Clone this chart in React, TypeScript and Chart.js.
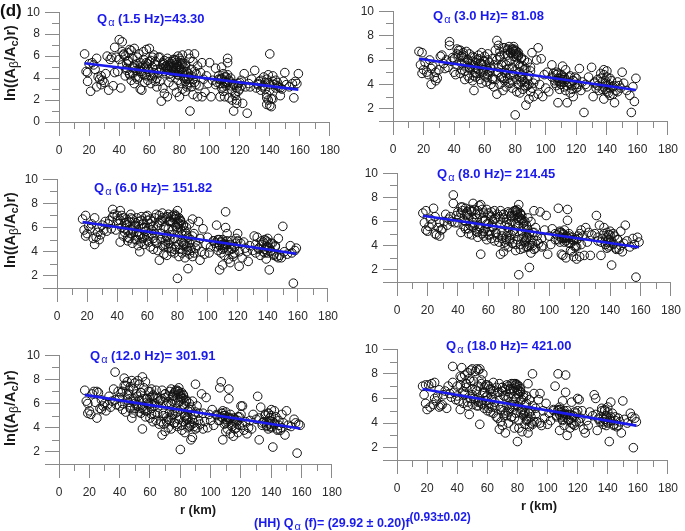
import { useEffect, useRef } from "react";
import { Chart, registerables } from "chart.js";

Chart.register(...registerables);

// ---------- DATA ----------
// Hypocentral distance r (km) of each record (shared by all frequency bands)
const distanceKm = [
  17, 18, 19, 19, 20, 21, 22, 23, 24, 25, 25, 26, 27, 28, 28, 29, 30, 31, 32, 33, 34, 35,
  36, 37, 37, 38, 39, 40, 40, 41, 42, 42, 43, 44, 44, 45, 45, 46, 47, 47, 48, 48, 49, 49, 50, 50, 50, 51,
  52, 52, 53, 53, 54, 54, 55, 55, 56, 56, 57, 57, 58, 58, 59, 59, 60, 60, 61, 61, 62, 62, 63, 63, 64, 64, 65, 65, 66, 66,
  67, 67, 68, 68, 69, 69, 70, 70, 71, 71, 72, 72, 73, 73, 74, 74, 75, 75, 76, 76, 77, 77, 78, 78, 78, 79, 79, 79, 80, 80,
  80, 81, 81, 81, 82, 82, 82, 83, 83, 84, 84, 85, 85, 86, 86, 87, 87, 88, 88, 89, 89, 90, 90, 91, 92, 92,
  93, 94, 95, 95, 96, 97, 98, 99, 100, 101, 102, 104,
  105, 106, 107, 107, 108, 108, 109, 109, 110, 110, 111, 111, 112, 112, 113, 113, 114, 115, 116, 116, 117, 118, 118, 119, 120, 121, 122, 123, 124, 125,
  126, 127, 128, 130, 131, 132, 133, 134, 135, 136, 137, 138, 138, 139, 139, 140, 140, 141, 142, 142, 144, 145,
  147, 147, 148, 149, 150, 151, 153, 155, 156, 157, 158, 159,
  42, 43, 45, 46, 47, 49, 51, 52, 53, 54, 55, 56, 57, 58, 59, 60, 61, 62, 63, 64, 65, 46, 50, 54, 58,
  68, 69, 70, 71, 72, 73, 74, 75, 76, 77, 78, 79, 80, 81, 82, 83, 84, 85, 86, 87, 88, 89, 90, 91,
  70, 72, 74, 76, 78, 80, 82, 84, 86, 77, 79, 81, 83, 75, 73, 85,
  104, 106, 107, 108, 109, 110, 111, 112, 113, 114, 115, 116, 117, 118, 119, 120, 121, 108, 110, 112,
  132, 134, 136, 137, 138, 139, 140, 141, 142, 143, 144, 145, 146, 140, 138,
];

// ln((Abeta/Ac) r) values per frequency band
const lnAmp1_5Hz = [
  6.2, 4.6, 3.7, 4.5, 5.3, 2.8, 5.4, 5.2, 4.8, 5.8, 3.2, 4.1, 3.9, 4.2, 3.4, 3.8, 3.6, 4.4, 6.0, 2.9, 5.7, 5.9,
  3.3, 6.8, 4.5, 5.9, 4.6, 7.5, 5.7, 3.1, 7.3, 6.4, 6.2, 6.0, 4.2, 5.3, 4.7, 5.5, 6.6, 4.3, 3.8, 6.5, 5.0, 4.4, 3.5, 6.7, 5.2, 4.1,
  5.9, 3.9, 4.8, 6.2, 3.0, 5.4, 2.9, 4.4, 6.4, 5.1, 3.6, 4.9, 6.6, 4.2, 5.3, 3.8, 6.7, 4.6, 3.5, 5.6, 4.0, 5.0, 6.1, 4.3, 3.7, 5.5, 4.8, 3.2, 5.9, 4.5,
  5.9, 3.7, 1.9, 4.8, 5.2, 3.1, 2.6, 5.6, 4.4, 5.0, 2.3, 5.8, 4.7, 3.6, 5.3, 4.1, 5.5, 4.9, 3.3, 5.1, 4.5, 5.7, 2.7, 4.9, 5.4, 6.0, 4.3, 3.8, 5.8, 2.3,
  4.7, 5.2, 3.5, 5.6, 4.5, 6.1, 3.0, 5.0, 4.2, 5.3, 2.8, 4.6, 3.4, 6.2, 4.0, 1.0, 5.8, 3.2, 4.8, 2.5, 5.5, 6.2, 3.6, 4.4, 2.3, 5.1,
  3.3, 4.5, 2.3, 5.4, 3.9, 2.7, 4.2, 3.5, 5.4, 2.3, 3.8, 4.9,
  3.6, 4.2, 2.3, 3.9, 5.0, 3.1, 4.4, 2.8, 3.5, 2.3, 4.1, 3.3, 5.8, 5.4, 3.7, 2.2, 4.0, 2.0, 1.0, 3.4, 2.6, 2.0, 1.7, 3.5, 3.0, 3.8, 1.7, 4.4, 3.2, 0.8,
  3.5, 3.2, 3.9, 4.7, 3.1, 3.4, 3.7, 2.9, 3.2, 4.1, 3.6, 2.2, 1.6, 4.3, 2.0, 6.2, 1.5, 1.4, 4.2, 2.1, 3.8, 3.3,
  2.4, 3.1, 3.0, 3.7, 4.5, 3.4, 3.2, 3.5, 2.2, 3.7, 3.5, 4.4,
  5.2, 6.1, 4.9, 5.6, 4.4, 5.8, 4.7, 5.3, 4.1, 5.0, 4.6, 5.7, 4.3, 5.1, 4.8, 5.5, 4.2, 5.9, 4.5, 5.2, 4.0, 6.3, 4.9, 4.6, 5.4,
  4.9, 5.4, 4.6, 5.1, 4.8, 5.5, 4.4, 5.0, 5.7, 4.7, 5.2, 4.5, 5.0, 4.8, 5.3, 4.6, 5.1, 3.9, 4.4, 3.6, 4.2, 3.9, 4.6, 3.4,
  5.3, 4.9, 5.0, 4.7, 5.2, 4.9, 4.5, 3.7, 4.1, 5.6, 4.3, 5.4, 4.0, 4.6, 5.1, 3.2,
  3.4, 3.9, 3.5, 4.0, 3.2, 3.7, 3.6, 4.3, 3.8, 3.3, 2.9, 3.5, 2.4, 3.1, 2.8, 3.6, 3.3, 3.9, 4.1, 3.6,
  3.5, 3.8, 3.3, 3.0, 3.9, 3.6, 2.9, 2.1, 3.7, 3.4, 3.1, 3.6, 3.2, 3.4, 2.5,
];
const lnAmp3_0Hz = [
  6.7, 5.6, 6.6, 4.9, 5.2, 5.8, 5.0, 4.8, 6.0, 4.0, 5.3, 5.5, 4.6, 4.3, 5.0, 4.5, 5.2, 6.3, 6.4, 5.7, 5.3, 6.0,
  5.4, 7.5, 7.2, 5.9, 6.2, 5.0, 6.1, 4.8, 6.9, 5.6, 6.4, 6.8, 4.9, 6.3, 5.2, 6.6, 5.8, 4.4, 5.5, 6.7, 4.7, 6.0, 5.3, 6.5, 4.5, 5.7,
  5.9, 4.3, 3.5, 6.2, 5.4, 4.6, 6.0, 4.9, 5.2, 6.4, 4.4, 5.7, 6.6, 4.1, 5.0, 5.9, 4.7, 6.3, 4.2, 5.5, 6.5, 4.8, 5.1, 5.8, 4.0, 5.3, 4.5, 6.1, 3.8, 5.6,
  6.8, 4.4, 3.2, 7.6, 5.0, 7.2, 4.0, 6.2, 4.6, 5.6, 3.5, 7.0, 4.3, 6.5, 5.2, 3.8, 6.9, 4.5, 7.1, 5.9, 4.1, 6.6, 5.4, 6.9, 3.7, 6.7, 4.8, 6.3, 1.5, 6.8,
  5.1, 4.4, 6.5, 3.4, 5.7, 6.6, 4.0, 5.0, 3.3, 6.2, 4.6, 5.5, 3.6, 6.0, 4.2, 2.3, 5.3, 3.9, 5.8, 2.8, 4.7, 5.4, 3.4, 6.6, 4.1, 3.0,
  4.4, 6.0, 7.0, 3.2, 4.0, 6.1, 3.0, 4.8, 3.7, 5.0, 3.4, 5.6,
  4.9, 4.3, 3.9, 5.0, 4.5, 2.5, 4.2, 3.6, 4.8, 4.0, 4.4, 5.5, 3.8, 4.6, 5.2, 3.5, 2.5, 4.1, 3.3, 4.7, 3.9, 3.0, 4.3, 4.6, 3.7, 4.0, 5.3, 3.5, 4.2, 1.7,
  4.0, 3.8, 4.6, 5.4, 3.0, 4.1, 3.7, 4.4, 3.5, 4.9, 4.2, 2.8, 5.2, 3.6, 4.3, 5.1, 3.9, 3.3, 4.5, 3.1, 3.8, 2.5,
  3.4, 4.2, 3.9, 3.7, 5.0, 4.1, 3.5, 3.1, 1.7, 3.8, 2.6, 4.5,
  6.5, 6.8, 5.7, 6.2, 5.1, 6.0, 5.5, 6.3, 4.7, 5.8, 5.3, 6.1, 4.9, 5.6, 5.2, 5.9, 4.6, 6.0, 5.0, 5.4, 4.4, 6.4, 5.4, 5.0, 5.7,
  6.0, 5.4, 6.7, 4.6, 5.8, 7.0, 4.9, 6.8, 5.3, 6.6, 4.3, 6.9, 6.5, 6.7, 6.3, 5.5, 6.1, 4.7, 5.2, 3.8, 4.4, 4.0, 5.1, 3.7,
  6.3, 4.5, 5.6, 4.1, 6.8, 5.9, 6.4, 4.2, 3.9, 4.8, 7.1, 6.2, 4.6, 6.4, 5.0, 4.4,
  4.6, 4.1, 4.8, 4.3, 4.5, 4.0, 4.7, 4.2, 4.4, 3.9, 4.6, 4.1, 3.6, 4.3, 4.0, 4.5, 3.8, 4.9, 4.2, 4.4,
  4.2, 3.9, 4.5, 3.6, 4.8, 4.1, 3.4, 4.0, 3.7, 4.3, 3.2, 3.9, 3.5, 4.6, 3.8,
];
const lnAmp6_0Hz = [
  6.7, 5.8, 7.0, 5.3, 5.5, 6.1, 5.9, 6.3, 5.1, 4.6, 6.8, 5.2, 5.6, 5.0, 6.0, 5.4, 6.2, 5.8, 6.5, 5.7, 6.3, 6.6,
  5.9, 7.5, 6.9, 7.1, 5.8, 6.6, 7.0, 6.3, 7.4, 4.8, 6.0, 6.8, 5.3, 6.4, 5.6, 6.2, 5.7, 4.9, 6.5, 5.1, 7.1, 5.5, 5.9, 6.7, 4.7, 6.1,
  6.4, 5.0, 5.6, 6.8, 4.5, 6.1, 4.0, 5.4, 6.6, 4.8, 5.9, 6.3, 5.2, 4.6, 6.9, 5.7, 7.0, 4.9, 6.0, 5.3, 6.7, 4.4, 5.8, 6.5, 5.1, 4.2, 6.8, 5.5, 4.7, 7.1,
  6.2, 4.1, 3.3, 7.0, 5.5, 6.6, 4.5, 7.2, 3.8, 6.0, 4.9, 6.8, 5.3, 3.7, 7.1, 4.3, 6.5, 5.0, 6.9, 4.0, 5.8, 6.4, 3.9, 6.7, 5.1, 7.0, 4.4, 6.1, 1.8, 7.4,
  5.6, 4.6, 6.3, 3.6, 5.9, 6.6, 4.2, 5.4, 3.9, 6.2, 4.7, 5.7, 3.5, 6.0, 4.4, 2.6, 5.2, 3.8, 6.3, 4.1, 5.0, 6.7, 3.6, 5.5, 4.3, 4.8,
  4.5, 6.5, 3.3, 5.1, 4.0, 5.9, 3.8, 4.6, 5.2, 3.9, 4.4, 4.9,
  4.7, 6.2, 4.1, 5.0, 2.5, 4.5, 4.8, 3.9, 2.9, 5.0, 4.3, 3.7, 7.3, 6.0, 4.6, 5.5, 3.4, 3.1, 4.9, 4.2, 3.6, 3.9, 4.4, 5.1, 5.5, 2.8, 4.7, 3.5, 4.8, 4.3,
  4.0, 3.2, 4.5, 4.1, 5.3, 3.9, 5.2, 4.3, 3.7, 4.6, 4.8, 3.9, 4.2, 3.4, 4.9, 5.1, 4.4, 2.5, 4.7, 4.0, 3.8, 4.5,
  3.5, 5.1, 3.7, 3.5, 6.1, 4.0, 3.8, 4.5, 3.9, 1.4, 4.1, 4.3,
  6.6, 7.0, 5.9, 6.4, 5.2, 6.8, 5.6, 6.2, 5.0, 6.5, 5.4, 6.9, 5.1, 6.0, 5.7, 6.6, 4.8, 6.3, 5.5, 6.1, 4.9, 6.7, 5.8, 5.3, 6.0,
  6.4, 5.0, 6.8, 4.4, 6.1, 6.9, 4.7, 6.6, 5.4, 7.0, 4.2, 6.7, 6.3, 6.8, 6.5, 5.7, 6.2, 4.9, 5.5, 4.1, 4.7, 4.3, 5.3, 3.9,
  6.5, 4.6, 5.9, 4.3, 7.1, 6.0, 6.6, 4.5, 4.0, 5.1, 6.9, 6.4, 4.8, 6.5, 5.2, 4.6,
  4.9, 4.4, 5.0, 4.6, 4.8, 4.2, 4.7, 4.5, 4.9, 4.1, 4.6, 4.3, 3.8, 4.4, 4.7, 4.9, 4.0, 5.0, 4.5, 4.6,
  4.6, 4.2, 4.9, 4.0, 5.0, 4.4, 3.9, 4.3, 4.1, 4.7, 3.7, 4.4, 3.6, 4.8, 4.2,
];
const lnAmp8_0Hz = [
  6.7, 5.9, 5.3, 6.9, 5.2, 5.6, 6.2, 5.8, 7.1, 5.0, 6.4, 4.9, 5.5, 4.8, 5.9, 5.3, 5.4, 6.0, 6.6, 5.7, 6.2, 6.4,
  6.0, 8.2, 7.5, 5.9, 6.5, 6.8, 5.9, 6.3, 5.1, 7.2, 6.9, 6.1, 5.6, 7.1, 5.4, 6.6, 5.0, 6.3, 7.0, 5.7, 6.8, 4.9, 7.5, 5.5, 6.2, 7.0,
  6.6, 5.2, 4.7, 6.9, 5.6, 7.3, 3.3, 7.4, 5.0, 6.2, 4.8, 6.7, 5.4, 6.1, 4.5, 7.0, 5.8, 4.9, 6.5, 5.2, 6.8, 4.6, 6.0, 5.5, 6.9, 4.4, 6.3, 5.1, 4.7, 6.6,
  6.4, 4.3, 3.3, 6.9, 5.1, 4.6, 3.5, 6.6, 4.0, 5.7, 4.8, 6.2, 3.9, 5.5, 6.7, 4.4, 6.0, 4.9, 6.8, 4.2, 5.3, 6.5, 3.6, 6.9, 5.8, 7.0, 4.5, 6.3, 1.6, 7.4,
  5.6, 4.1, 6.6, 3.7, 5.2, 6.1, 4.6, 5.9, 3.8, 5.4, 4.3, 5.7, 3.9, 6.3, 4.7, 2.2, 5.0, 3.4, 6.0, 4.0, 5.1, 6.9, 3.7, 5.5, 4.4, 4.8,
  4.2, 6.8, 3.9, 4.6, 4.0, 5.3, 6.5, 3.3, 4.8, 4.1, 5.4, 4.5,
  4.9, 7.1, 4.3, 5.2, 4.6, 3.3, 5.0, 3.2, 4.7, 5.3, 3.0, 4.4, 6.1, 7.0, 4.8, 4.2, 3.6, 3.5, 4.5, 3.1, 4.0, 2.9, 3.9, 4.6, 3.1, 5.3, 4.8, 3.2, 5.5, 4.3,
  5.1, 3.2, 4.9, 5.0, 6.5, 4.4, 5.7, 3.2, 4.6, 5.5, 4.1, 3.8, 4.7, 3.9, 4.9, 5.2, 4.3, 2.4, 5.0, 4.1, 3.7, 4.5,
  5.2, 4.0, 3.5, 4.2, 5.7, 4.4, 3.9, 4.6, 4.1, 1.4, 4.7, 4.3,
  6.7, 7.2, 6.0, 6.5, 5.4, 6.9, 5.7, 6.3, 5.1, 6.6, 5.5, 7.0, 5.2, 6.1, 5.8, 6.7, 4.9, 6.4, 5.6, 6.2, 5.0, 6.8, 5.9, 5.4, 6.1,
  6.2, 4.8, 6.6, 4.3, 5.9, 6.8, 4.6, 6.5, 5.2, 6.9, 4.1, 6.6, 6.4, 6.7, 6.2, 5.6, 6.0, 4.7, 5.3, 4.0, 4.5, 4.2, 5.1, 3.8,
  6.3, 4.5, 5.8, 4.2, 6.9, 6.1, 6.5, 4.4, 3.9, 5.0, 6.8, 6.3, 4.7, 6.4, 5.1, 4.5,
  5.0, 4.5, 5.1, 4.7, 4.9, 4.3, 4.8, 4.6, 5.0, 4.2, 4.7, 4.4, 3.9, 4.5, 4.8, 5.0, 4.1, 5.1, 4.6, 4.7,
  4.7, 4.3, 5.0, 4.1, 5.1, 4.5, 4.0, 4.4, 4.2, 4.8, 3.8, 4.5, 3.7, 4.9, 4.3,
];
const lnAmp12_0Hz = [
  7.1, 6.2, 6.0, 5.2, 5.4, 5.1, 6.8, 7.0, 6.1, 4.8, 7.0, 6.9, 5.6, 5.5, 6.3, 5.8, 6.0, 5.4, 5.9, 6.6, 5.7, 6.2,
  7.2, 8.6, 6.3, 5.9, 7.0, 6.5, 5.8, 6.9, 6.0, 5.5, 8.1, 7.5, 5.3, 7.8, 6.7, 6.1, 7.4, 5.7, 4.8, 7.9, 6.4, 5.2, 7.7, 6.0, 5.6, 6.8,
  7.9, 5.8, 6.3, 7.6, 5.2, 6.9, 3.9, 8.2, 5.5, 6.4, 7.8, 4.9, 6.1, 5.4, 7.0, 5.9, 6.5, 4.8, 7.2, 5.6, 6.6, 4.5, 6.0, 5.1, 7.1, 4.6, 6.4, 5.7, 4.3, 6.2,
  6.3, 4.5, 3.4, 7.1, 5.2, 4.3, 3.7, 6.8, 4.9, 6.0, 4.0, 6.6, 4.6, 5.8, 7.2, 3.9, 6.2, 5.1, 6.9, 4.4, 5.6, 7.0, 4.1, 6.5, 5.3, 7.3, 4.7, 6.1, 2.2, 6.8,
  5.5, 3.8, 6.4, 4.2, 5.9, 6.7, 4.5, 5.0, 3.6, 6.3, 4.8, 5.4, 4.0, 6.0, 4.4, 3.0, 5.7, 3.2, 6.2, 4.1, 5.1, 7.6, 3.9, 5.8, 4.6, 5.2,
  4.3, 6.8, 3.9, 5.2, 4.5, 6.5, 4.0, 5.1, 4.6, 5.5, 4.2, 5.0,
  4.6, 7.3, 7.8, 4.9, 3.0, 5.4, 4.3, 5.0, 3.7, 5.3, 4.5, 3.9, 7.2, 6.4, 4.8, 3.5, 4.1, 3.3, 4.7, 3.9, 4.4, 3.6, 4.9, 4.2, 5.8, 5.8, 3.8, 4.5, 3.5, 4.0,
  4.6, 3.9, 5.1, 4.7, 6.6, 3.0, 5.7, 4.2, 4.5, 5.0, 4.1, 3.9, 5.2, 4.3, 4.8, 5.5, 4.0, 2.4, 5.4, 4.4, 3.8, 4.2,
  5.1, 4.0, 4.4, 3.4, 5.4, 4.2, 4.1, 4.7, 4.4, 1.9, 4.3, 4.2,
  7.0, 7.5, 6.3, 6.8, 5.6, 7.2, 5.9, 6.6, 5.3, 6.9, 5.7, 7.3, 5.4, 6.4, 6.0, 7.0, 5.1, 6.7, 5.8, 6.5, 5.2, 7.1, 6.2, 5.6, 6.4,
  6.4, 5.0, 6.8, 4.5, 6.1, 7.0, 4.8, 6.7, 5.4, 7.1, 4.3, 6.8, 6.6, 6.9, 6.4, 5.8, 6.2, 4.9, 5.5, 4.2, 4.7, 4.4, 5.3, 4.0,
  6.5, 4.7, 6.0, 4.4, 7.1, 6.3, 6.7, 4.6, 4.1, 5.2, 7.0, 6.5, 4.9, 6.6, 5.3, 4.7,
  5.1, 4.6, 5.2, 4.8, 5.0, 4.4, 4.9, 4.7, 5.1, 4.3, 4.8, 4.5, 4.0, 4.6, 4.9, 5.1, 4.2, 5.2, 4.7, 4.8,
  4.8, 4.4, 5.1, 4.2, 5.2, 4.6, 4.1, 4.5, 4.3, 4.9, 3.9, 4.6, 3.8, 5.0, 4.4,
];
const lnAmp18_0Hz = [
  7.0, 6.3, 5.6, 7.1, 5.1, 7.1, 5.3, 7.2, 5.5, 7.3, 6.0, 5.8, 6.2, 5.3, 6.7, 5.4, 5.5, 6.3, 6.6, 5.2, 7.0, 6.4,
  6.1, 8.6, 7.3, 6.5, 5.9, 7.0, 6.2, 5.8, 7.8, 5.1, 8.5, 6.6, 5.6, 7.9, 6.3, 7.2, 8.1, 5.4, 4.7, 7.6, 8.3, 6.0, 8.4, 5.5, 6.8, 7.4,
  8.2, 5.9, 8.4, 6.6, 8.3, 5.4, 3.9, 8.4, 7.2, 5.6, 6.4, 8.0, 5.2, 6.9, 7.1, 5.8, 6.2, 5.0, 7.0, 5.5, 6.7, 4.9, 6.1, 5.3, 7.3, 4.8, 6.4, 5.7, 4.5, 6.9,
  6.5, 4.4, 3.5, 7.2, 5.3, 4.1, 3.8, 6.9, 5.0, 6.2, 3.2, 6.7, 4.6, 5.9, 7.0, 4.0, 6.4, 5.2, 7.2, 4.5, 5.7, 6.8, 3.6, 6.6, 5.5, 7.2, 4.8, 6.0, 2.5, 7.1,
  5.4, 4.2, 6.3, 3.6, 5.8, 6.6, 4.9, 5.1, 3.3, 6.1, 4.6, 5.5, 3.9, 6.2, 4.3, 3.2, 7.2, 3.7, 5.9, 4.0, 5.0, 8.0, 3.9, 6.4, 4.7, 5.2,
  4.1, 5.9, 4.0, 6.4, 3.8, 5.0, 4.4, 5.6, 3.9, 4.8, 4.2, 5.1,
  7.0, 4.6, 8.0, 5.0, 3.4, 5.3, 4.5, 4.9, 5.8, 4.2, 5.0, 3.8, 6.5, 7.9, 4.7, 3.0, 4.3, 3.6, 5.7, 4.0, 4.6, 3.8, 4.9, 4.1, 6.0, 5.9, 4.4, 5.0, 3.5, 3.2,
  4.2, 3.8, 4.9, 4.6, 6.3, 6.0, 3.4, 4.4, 4.1, 5.2, 3.9, 4.3, 5.0, 4.6, 3.8, 5.3, 4.1, 2.5, 5.7, 4.5, 3.9, 4.2,
  3.8, 4.4, 4.1, 3.2, 5.8, 4.3, 4.0, 4.8, 4.5, 2.0, 4.4, 4.1,
  7.1, 7.7, 6.4, 6.9, 5.7, 7.4, 6.0, 6.7, 5.4, 7.0, 5.8, 7.5, 5.5, 6.5, 6.1, 7.1, 5.2, 6.8, 5.9, 6.6, 5.3, 7.2, 6.3, 5.7, 6.5,
  6.5, 5.1, 6.9, 4.6, 6.2, 7.1, 4.9, 6.8, 5.5, 7.2, 4.4, 6.9, 6.7, 7.0, 6.5, 5.9, 6.3, 5.0, 5.6, 4.3, 4.8, 4.5, 5.4, 4.1,
  6.6, 4.8, 6.1, 4.5, 7.2, 6.4, 6.8, 4.7, 4.2, 5.3, 7.1, 6.6, 5.0, 6.7, 5.4, 4.8,
  5.0, 4.5, 5.1, 4.7, 4.9, 4.3, 4.8, 4.6, 5.0, 4.2, 4.7, 4.4, 3.9, 4.5, 4.8, 5.0, 4.1, 5.1, 4.6, 4.7,
  4.7, 4.3, 5.0, 4.1, 5.1, 4.5, 4.0, 4.4, 4.2, 4.8, 3.8, 4.5, 3.7, 4.9, 4.3,
];

// Least-squares fit lines (value at r = 17 km and r = 159 km)
const fitDistanceKm = [17, 159];
const fit1_5Hz = [5.35, 2.95];
const fit3_0Hz = [6.1, 3.54];
const fit6_0Hz = [6.46, 3.83];
const fit8_0Hz = [6.48, 3.88];
const fit12_0Hz = [6.72, 3.94];
const fit18_0Hz = [6.77, 3.79];

const qLabels = [
  "(1.5 Hz)=43.30",
  "(3.0 Hz)= 81.08",
  "(6.0 Hz)= 151.82",
  "(8.0 Hz)= 214.45",
  "(12.0 Hz)= 301.91",
  "(18.0 Hz)= 421.00",
];
const yAxisMin = [0, 1, 1, 1, 1, 1];
const xTickMax = 180;
const xTickStep = 20;
const yTickMax = 10;
const yTickStep = 2;

// ---------- STYLE / LAYOUT ----------
const BLUE = "#1a1aee";
const AXIS_GRAY = "#8a8a8a";
const FONT = "'Liberation Sans', Arial, Helvetica, sans-serif";

// page-pixel geometry of each panel's plot box (left, right, top(y=10), bottom(y=min))
const panelBoxes = [
  { l: 59, r: 335, t: 10, b: 122 },
  { l: 393, r: 673, t: 9, b: 121 },
  { l: 57, r: 333, t: 177, b: 288 },
  { l: 397, r: 676, t: 171, b: 282 },
  { l: 59, r: 337, t: 353, b: 464 },
  { l: 397, r: 673, t: 347, b: 460 },
];
const qLabelPos = [
  { x: 97, y: 20 },
  { x: 433, y: 17 },
  { x: 94, y: 189 },
  { x: 437, y: 175 },
  { x: 90, y: 357 },
  { x: 446, y: 347 },
];

const Y_AXIS_W = 50;
const X_AXIS_H = 42;
const PAD_TOP = 10;
const PAD_RIGHT = 12;

const minorTicks = {
  id: "minorTicks",
  afterDraw(chart: any) {
    const { ctx } = chart;
    const xs = chart.scales.x;
    const ys = chart.scales.y;
    ctx.save();
    ctx.strokeStyle = AXIS_GRAY;
    ctx.lineWidth = 1;
    ctx.beginPath();
    for (let v = xTickStep / 2; v < xTickMax; v += xTickStep) {
      const px = Math.round(xs.getPixelForValue(v)) + 0.5;
      ctx.moveTo(px, xs.top);
      ctx.lineTo(px, xs.top + 7);
    }
    for (let v = 1; v < yTickMax; v += 2) {
      if (v <= ys.min) continue;
      const py = Math.round(ys.getPixelForValue(v)) + 0.5;
      ctx.moveTo(ys.right - 7, py);
      ctx.lineTo(ys.right, py);
    }
    ctx.stroke();
    ctx.restore();
  },
};

function Panel({ idx, values, fit }: { idx: number; values: number[]; fit: number[] }) {
  const ref = useRef<HTMLCanvasElement | null>(null);
  const box = panelBoxes[idx];
  const left = box.l - Y_AXIS_W;
  const top = box.t - PAD_TOP;
  const width = box.r - box.l + Y_AXIS_W + PAD_RIGHT;
  const height = box.b - box.t + PAD_TOP + X_AXIS_H;

  useEffect(() => {
    const canvas = ref.current;
    if (!canvas) return;
    const chart = new Chart(canvas, {
      type: "scatter",
      data: {
        datasets: [
          {
            data: fitDistanceKm.map((x, i) => ({ x, y: fit[i] })),
            showLine: true,
            borderColor: BLUE,
            borderWidth: 2.6,
            pointRadius: 0,
            order: 0,
          } as any,
          {
            data: distanceKm.map((x, i) => ({ x, y: values[i] })),
            pointRadius: 4.3,
            pointStyle: "circle",
            borderColor: "#111",
            backgroundColor: "rgba(0,0,0,0)",
            borderWidth: 1,
            order: 1,
          } as any,
        ],
      },
      options: {
        responsive: false,
        maintainAspectRatio: false,
        animation: false,
        devicePixelRatio: 1,
        layout: { padding: { left: 0, top: PAD_TOP, right: PAD_RIGHT, bottom: 0 } },
        plugins: { legend: { display: false }, tooltip: { enabled: false } },
        scales: {
          x: {
            type: "linear",
            min: 0,
            max: xTickMax,
            afterFit: (s: any) => {
              s.height = X_AXIS_H;
            },
            ticks: {
              stepSize: xTickStep,
              autoSkip: false,
              maxRotation: 0,
              padding: 7,
              color: "#2a2a2a",
              font: { family: FONT, size: 12 },
            },
            grid: { drawOnChartArea: false, drawTicks: true, tickLength: 14, color: AXIS_GRAY, lineWidth: 1 },
            border: { display: true, color: AXIS_GRAY, width: 1 },
          },
          y: {
            type: "linear",
            min: yAxisMin[idx],
            max: yTickMax,
            afterFit: (s: any) => {
              s.width = Y_AXIS_W;
            },
            ticks: {
              stepSize: yTickStep,
              autoSkip: false,
              padding: 5,
              color: "#2a2a2a",
              font: { family: FONT, size: 12 },
              callback: (v: any) => (Number(v) % 2 === 0 ? String(v) : ""),
            },
            grid: { drawOnChartArea: false, drawTicks: true, tickLength: 14, color: AXIS_GRAY, lineWidth: 1 },
            border: { display: true, color: AXIS_GRAY, width: 1 },
          },
        },
      } as any,
      plugins: [minorTicks],
    });
    return () => chart.destroy();
  }, []);

  return (
    <canvas
      ref={ref}
      width={width}
      height={height}
      style={{ position: "absolute", left, top, width, height }}
    />
  );
}

const blueText: any = {
  position: "absolute",
  color: BLUE,
  fontFamily: FONT,
  fontWeight: "bold",
  fontSize: 13,
  whiteSpace: "nowrap",
  transform: "translateY(-50%)",
  lineHeight: 1,
};

const greek: any = { fontWeight: "normal", fontSize: 11, verticalAlign: "-3px", marginLeft: 1 };

function QLabel({ i }: { i: number }) {
  return (
    <div style={{ ...blueText, left: qLabelPos[i].x, top: qLabelPos[i].y }}>
      Q<span style={greek}>α</span> {qLabels[i]}
    </div>
  );
}

function YTitle({ cy }: { cy: number }) {
  return (
    <div
      style={{
        position: "absolute",
        left: 11,
        top: cy,
        transform: "translate(-50%, -50%) rotate(-90deg)",
        fontFamily: FONT,
        fontWeight: "bold",
        fontSize: 14.5,
        color: "#1a1a1a",
        whiteSpace: "nowrap",
        lineHeight: 1,
      }}
    >
      ln((A<span style={{ fontWeight: "normal", fontSize: 12, verticalAlign: "-3px" }}>β</span>/A
      <span style={{ fontSize: 11, verticalAlign: "-3px" }}>c</span>)r)
    </div>
  );
}

function XTitle({ cx, cy }: { cx: number; cy: number }) {
  return (
    <div
      style={{
        position: "absolute",
        left: cx,
        top: cy,
        transform: "translate(-50%, -50%)",
        fontFamily: FONT,
        fontWeight: "bold",
        fontSize: 13,
        color: "#1a1a1a",
        whiteSpace: "nowrap",
        lineHeight: 1,
      }}
    >
      r (km)
    </div>
  );
}

export default function App() {
  const series = [lnAmp1_5Hz, lnAmp3_0Hz, lnAmp6_0Hz, lnAmp8_0Hz, lnAmp12_0Hz, lnAmp18_0Hz];
  const fits = [fit1_5Hz, fit3_0Hz, fit6_0Hz, fit8_0Hz, fit12_0Hz, fit18_0Hz];
  return (
    <div
      style={{
        position: "absolute",
        left: 0,
        top: 0,
        width: 685,
        height: 531,
        overflow: "hidden",
        background: "#fff",
      }}
    >
      {series.map((s, i) => (
        <Panel key={i} idx={i} values={s} fit={fits[i]} />
      ))}
      {qLabels.map((_, i) => (
        <QLabel key={i} i={i} />
      ))}
      <div
        style={{
          position: "absolute",
          left: 0,
          top: 10,
          transform: "translateY(-50%)",
          fontFamily: FONT,
          fontWeight: "bold",
          fontSize: 17,
          color: "#111",
          lineHeight: 1,
        }}
      >
        (d)
      </div>
      <YTitle cy={63} />
      <YTitle cy={230} />
      <YTitle cy={408} />
      <XTitle cx={198} cy={509} />
      <XTitle cx={539} cy={505} />
      <div style={{ ...blueText, left: 254, top: 521, fontSize: 12.5 }}>
        (HH) Q<span style={greek}>α</span> (f)= (29.92 ± 0.20)f
        <span style={{ fontSize: 12, verticalAlign: "6px" }}>(0.93±0.02)</span>
      </div>
    </div>
  );
}
